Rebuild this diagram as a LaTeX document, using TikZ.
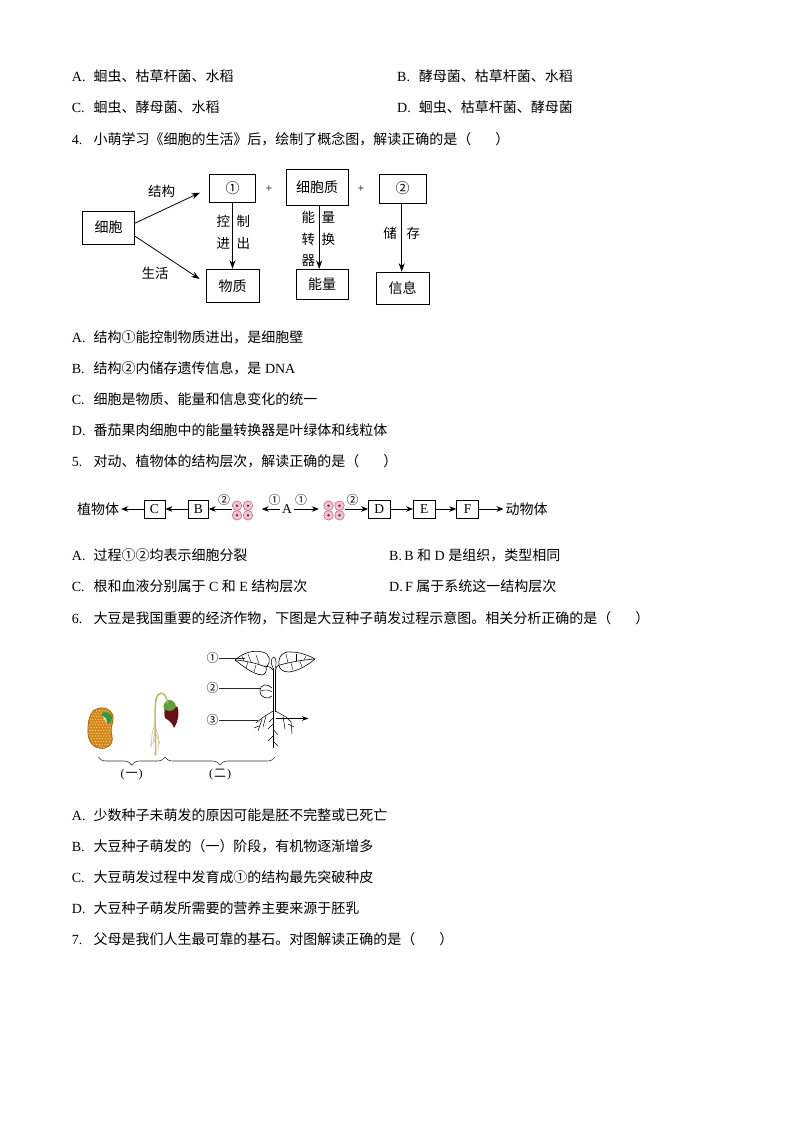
\documentclass[tikz,border=0pt]{standalone}
\usepackage{fontspec}
\setmainfont{Liberation Serif}
\newfontfamily\cjk{Noto Sans CJK SC}
\usetikzlibrary{arrows.meta,decorations.pathreplacing}
\newcommand{\optlab}[1]{\makebox[21.6pt][l]{#1}}
\definecolor{cellpink}{HTML}{F2C4CF}
\definecolor{celledge}{HTML}{B86A86}
\definecolor{celldot}{HTML}{8E1E3C}
\definecolor{seedfill}{HTML}{D4861C}
\definecolor{seededge}{HTML}{A35E0E}
\definecolor{seeddot}{HTML}{F3CB6A}
\definecolor{sprout}{HTML}{2E9A3E}
\definecolor{stemcol}{HTML}{B9BE6E}
\definecolor{rootcol}{HTML}{C9B58A}
\definecolor{headgreen}{HTML}{5FA03C}
\definecolor{coatred}{HTML}{6B0F14}
\tikzset{
  txt/.style={anchor=base west, inner sep=0pt, font=\fontsize{14}{16}\selectfont},
  bx/.style={draw, line width=0.75pt, inner sep=0pt, font=\cjk\fontsize{14}{16}\selectfont},
  lbl/.style={inner sep=0pt, font=\cjk\fontsize{13.5}{15}\selectfont},
  arr/.style={-{Stealth[length=8.5pt,width=6pt]}, line width=0.8pt},
  sarr/.style={-{Stealth[length=7pt,width=5.5pt]}, line width=0.8pt},
  sbx/.style={draw, line width=0.7pt, inner sep=0pt, minimum width=21pt, minimum height=18pt, font=\fontsize{13.5}{15}\selectfont},
  circnum/.style={inner sep=0pt, font=\cjk\fontsize{12}{13}\selectfont},
  plantline/.style={line width=0.6pt, black},
  bracestyle/.style={decorate, decoration={brace, mirror, amplitude=8pt}, line width=0.6pt, black!80},
}
\begin{document}
\begin{tikzpicture}[x=1pt,y=-1pt]
\useasboundingbox (0,0) rectangle (793,1122);
\fill[white] (0,0) rectangle (793,1122);

% ---------- top options ----------
\node[txt] (o1a) at (71.7,81) {\optlab{A.}{\cjk 蛔虫、枯草杆菌、水稻}};
\node[txt] (o1b) at (397,81) {\optlab{B.}{\cjk 酵母菌、枯草杆菌、水稻}};
\node[txt] (o1c) at (71.7,112) {\optlab{C.}{\cjk 蛔虫、酵母菌、水稻}};
\node[txt] (o1d) at (397,112) {\optlab{D.}{\cjk 蛔虫、枯草杆菌、酵母菌}};
\node[txt] (q4) at (71.7,144) {\optlab{4.}{\cjk 小萌学习《细胞的生活》后，绘制了概念图，解读正确的是（\hspace{1.7em}）}};

% ---------- diagram 4 ----------
\node[bx, minimum width=51.6pt, minimum height=33pt] (cell) at (108.5,227.5) {细胞};
\node[bx, minimum width=46.4pt, minimum height=28.7pt] (n1) at (232.5,188.3) {①};
\node[bx, minimum width=62.3pt, minimum height=36pt] (cyz) at (317.2,187.3) {细胞质};
\node[bx, minimum width=46.7pt, minimum height=29pt] (n2) at (402.7,188.5) {②};
\node[bx, minimum width=53.3pt, minimum height=33.7pt] (wz) at (232.7,286) {物质};
\node[bx, minimum width=52.3pt, minimum height=30pt] (nl) at (322.2,284.3) {能量};
\node[bx, minimum width=53.3pt, minimum height=32.3pt] (xx) at (402.7,288.2) {信息};
\node[lbl, font=\fontsize{12}{14}\selectfont] (p1) at (269,189) {+};
\node[lbl, font=\fontsize{12}{14}\selectfont] (p2) at (361,189) {+};

\draw[arr] ([yshift=4.2pt]cell.east) -- ([xshift=-9pt,yshift=-4.4pt]n1.west);
\draw[arr] ([yshift=-8.5pt]cell.east) -- ([xshift=-6pt,yshift=7pt]wz.west);
\draw[arr] (n1.south) -- (n1.south |- wz.north);
\draw[arr] ([xshift=2pt]cyz.south) -- ([xshift=2pt]cyz.south |- nl.north);
\draw[arr] ([xshift=-1pt]n2.south) -- ([xshift=-1pt]n2.south |- xx.north);

\node[lbl] (jg) at (161.7,191.7) {结构};
\node[lbl] (sh) at (155,273.3) {生活};
\node[lbl] (k1) at (223.3,221.7) {控};
\node[lbl] (k2) at (243.3,221.7) {制};
\node[lbl] (k3) at (223.3,243.3) {进};
\node[lbl] (k4) at (243.3,243.3) {出};
\node[lbl] (e1) at (308.3,217.3) {能};
\node[lbl] (e2) at (328.3,217.3) {量};
\node[lbl] (e3) at (308.3,239.5) {转};
\node[lbl] (e4) at (328.3,239.5) {换};
\node[lbl] (e5) at (308.3,260.5) {器};
\node[lbl] (s1) at (390,233.3) {储};
\node[lbl] (s2) at (413.3,233.3) {存};

% ---------- q4 options ----------
\node[txt] (o4a) at (71.7,342) {\optlab{A.}{\cjk 结构①能控制物质进出，是细胞壁}};
\node[txt] (o4b) at (71.7,373) {\optlab{B.}{\cjk 结构②内储存遗传信息，是}\ DNA};
\node[txt] (o4c) at (71.7,404) {\optlab{C.}{\cjk 细胞是物质、能量和信息变化的统一}};
\node[txt] (o4d) at (71.7,435) {\optlab{D.}{\cjk 番茄果肉细胞中的能量转换器是叶绿体和线粒体}};
\node[txt] (q5) at (71.7,466) {\optlab{5.}{\cjk 对动、植物体的结构层次，解读正确的是（\hspace{1.7em}）}};

% ---------- diagram 5 ----------
\node[lbl, font=\cjk\fontsize{14}{15}\selectfont, inner sep=2pt] (zw) at (98,509) {植物体};
\node[sbx] (C) at (154.5,509) {C};
\node[sbx, minimum width=20pt] (B) at (198.3,509) {B};
\node[inner sep=0pt, minimum size=22pt] (cl1) at (242.5,510.5) {};
\node[inner sep=1.5pt, font=\fontsize{13.5}{15}\selectfont] (A) at (287,509) {A};
\node[inner sep=0pt, minimum size=22pt] (cl2) at (334,510.5) {};
\node[sbx, minimum width=21.7pt] (D) at (379.2,509) {D};
\node[sbx, minimum width=21.7pt] (E) at (424.2,509) {E};
\node[sbx, minimum width=21.7pt] (F) at (467.5,509) {F};
\node[lbl, font=\cjk\fontsize{14}{15}\selectfont, inner sep=2pt] (dw) at (526.7,509) {动物体};

\foreach \cl in {cl1,cl2}{
  \foreach \dx in {-5.5,5.5}{
    \foreach \dy in {-4.8,4.8}{
      \filldraw[fill=cellpink, draw=celledge, line width=0.55pt] ([shift={(\dx,\dy)}]\cl.center) circle[radius=4.8];
      \fill[celldot] ([shift={(\dx,\dy)}]\cl.center) circle[radius=1.4];
    }
  }
}

\draw[sarr] (C.west) -- (zw.east);
\draw[sarr] (B.west) -- (C.east);
\draw[sarr] ([xshift=1pt]cl1.west |- B.east) -- (B.east);
\draw[sarr, shorten >=8pt] (A.west) -- (cl1.east |- A.west);
\draw[sarr, shorten >=4pt] (A.east) -- (cl2.west |- A.east);
\draw[sarr] (cl2.east |- D.west) -- (D.west);
\draw[sarr] (D.east) -- (E.west);
\draw[sarr] (E.east) -- (F.west);
\draw[sarr] (F.east) -- (dw.west);
\node[circnum] (c2a) at (224,500) {②};
\node[circnum] (c1a) at (274.5,500) {①};
\node[circnum] (c1b) at (301,500) {①};
\node[circnum] (c2b) at (352.7,500) {②};

% ---------- q5 options ----------
\node[txt] (o5a) at (71.7,560) {\optlab{A.}{\cjk 过程①②均表示细胞分裂}};
\node[txt] (o5b) at (389,560) {B.\,B\ {\cjk 和}\ D\ {\cjk 是组织，类型相同}};
\node[txt] (o5c) at (71.7,591.5) {\optlab{C.}{\cjk 根和血液分别属于}\ C\ {\cjk 和}\ E\ {\cjk 结构层次}};
\node[txt] (o5d) at (389,591.5) {D.\,F\ {\cjk 属于系统这一结构层次}};
\node[txt] (q6) at (71.7,623) {\optlab{6.}{\cjk 大豆是我国重要的经济作物，下图是大豆种子萌发过程示意图。相关分析正确的是（\hspace{1.7em}）}};

% ---------- diagram 6 ----------
% seed
\begin{scope}
  \path[clip] (100,708) .. controls (108,707) and (114,712) .. (113,720)
     .. controls (112,726) and (110,730) .. (112,736)
     .. controls (114,745) and (106,750) .. (99,748)
     .. controls (91,747) and (87,738) .. (88,728)
     .. controls (88,716) and (93,708) .. (100,708) -- cycle;
  \fill[seedfill] (85,705) rectangle (116,752);
  \foreach \i in {0,...,10}{
    \foreach \j in {0,...,15}{
      \fill[seeddot] ({87+\i*2.8+1.4*mod(\j,2)},{708+\j*2.8}) circle[radius=0.75];
    }
  }
  \fill[sprout] (102,713) .. controls (106,711) and (111,713) .. (112,717)
     .. controls (112,721) and (110,724) .. (108,724)
     .. controls (107,720) and (105,717) .. (102,716) -- cycle;
  \fill[white, opacity=0.8] (103,716) .. controls (106,717) and (107,720) .. (107,723)
     .. controls (105,721) and (104,719) .. (103,716) -- cycle;
\end{scope}
\draw[seededge, line width=0.7pt] (100,708) .. controls (108,707) and (114,712) .. (113,720)
     .. controls (112,726) and (110,730) .. (112,736)
     .. controls (114,745) and (106,750) .. (99,748)
     .. controls (91,747) and (87,738) .. (88,728)
     .. controls (88,716) and (93,708) .. (100,708) -- cycle;

% seedling
\draw[rootcol, line width=0.5pt] (155,722) -- (152,735) -- (151,748);
\draw[rootcol, line width=0.5pt] (155,726) -- (159,738) -- (158,750);
\draw[rootcol, line width=0.5pt] (155,730) -- (153,742);
\draw[rootcol, line width=0.5pt] (156,734) -- (160,744);
\draw[rootcol, line width=0.4pt] (155,740) -- (150,746);
\draw[stemcol, line width=1.6pt, line cap=round] (155.5,755) .. controls (156,735) and (154,712) .. (156,700)
   .. controls (157,692) and (164,690) .. (167,700);
\fill[headgreen] (168,700) .. controls (173,699) and (177,704) .. (176,710)
   .. controls (175,714) and (170,715) .. (166,713)
   .. controls (162,710) and (163,701) .. (168,700) -- cycle;
\fill[coatred] (165,710) .. controls (170,712) and (174,711) .. (177,706)
   .. controls (180,712) and (178,722) .. (174,728)
   .. controls (172,722) and (168,720) .. (165,718)
   .. controls (164,715) and (164,712) .. (165,710) -- cycle;
\fill[headgreen!70!white] (167,702) circle[radius=1.5];

% plant
\draw[plantline] (273,668) -- (273,748);
\draw[plantline] (275.5,670) -- (275.5,712);
% petioles
\draw[plantline] (273,670) .. controls (271,667) and (268,666) .. (265,666);
\draw[plantline] (275.5,670) .. controls (276,667) and (277,666) .. (279,665);
% left leaf
\draw[plantline] (266,667) .. controls (272,662) and (270,653) .. (262,652)
   .. controls (254,650) and (244,652) .. (235,660)
   .. controls (243,666) and (252,674) .. (262,675)
   .. controls (266,674) and (267,670) .. (266,667);
\draw[plantline] (266,667) .. controls (256,663) and (246,661) .. (236,660);
\draw[plantline, line width=0.4pt] (259,664) -- (256,655);
\draw[plantline, line width=0.4pt] (251,662) -- (248,654);
\draw[plantline, line width=0.4pt] (244,661) -- (242,656);
\draw[plantline, line width=0.4pt] (256,665) -- (254,672);
\draw[plantline, line width=0.4pt] (248,662) -- (246,668);
% right leaf
\draw[plantline] (279,665) .. controls (278,656) and (283,651) .. (291,652)
   .. controls (299,652) and (308,655) .. (315,659)
   .. controls (308,665) and (298,671) .. (289,672)
   .. controls (283,672) and (279,669) .. (279,665);
\draw[plantline] (280,665) .. controls (290,662) and (303,660) .. (314,659);
\draw[plantline, line width=0.4pt] (288,663) -- (286,654);
\draw[plantline, line width=0.4pt] (296,661) -- (296,654);
\draw[plantline, line width=0.4pt] (304,660) -- (306,656);
\draw[plantline, line width=0.4pt] (291,663) -- (293,670);
\draw[plantline, line width=0.4pt] (300,661) -- (302,667);
% bud
\draw[plantline, line width=0.5pt] (273,668) .. controls (270,662) and (271,658) .. (274,657)
   .. controls (277,660) and (276,664) .. (275.5,668);
% cotyledon
\draw[plantline] (272,688) .. controls (268,683) and (260,684) .. (260,691)
   .. controls (260,698) and (268,700) .. (272,696);
\draw[plantline, line width=0.45pt] (261,691) .. controls (265,689) and (269,690) .. (272,692);
% roots
\draw[plantline, line width=0.5pt] (273,711) -- (262,718) -- (256,723);
\draw[plantline, line width=0.5pt] (266,716) -- (263,727);
\draw[plantline, line width=0.5pt] (262,719) -- (258,731);
\draw[plantline, line width=0.5pt] (259,726) -- (254,728);
\draw[plantline, line width=0.5pt] (275.5,711) -- (286,717) -- (291,722) -- (292,734);
\draw[plantline, line width=0.5pt] (283,716) -- (285,729);
\draw[plantline, line width=0.5pt] (288,724) -- (294,727);
\draw[plantline, line width=0.4pt] (273,724) -- (268,729);
\draw[plantline, line width=0.4pt] (273,729) -- (278,735);
\draw[plantline, line width=0.4pt] (273,736) -- (268,741);
\draw[plantline, line width=0.4pt] (273,741) -- (278,746);
\draw[plantline, line width=0.4pt] (273,718) -- (269,722);

% labels and lines
\node[circnum] (f1) at (212.7,658.3) {①};
\node[circnum] (f2) at (212.7,688.3) {②};
\node[circnum] (f3) at (212.7,720) {③};
\coordinate (t1) at (245,658.3);
\coordinate (t2) at (261,688.3);
\coordinate (t3) at (258,720);
\coordinate (ar0) at (275.5,718.5);
\coordinate (ar1) at (308.5,718.5);
\draw[line width=0.6pt, black!85] (f1.east) -- (t1);
\draw[line width=0.6pt, black!85] (f2.east) -- (t2);
\draw[line width=0.6pt, black!85] (f3.east) -- (t3);
\draw[-{Stealth[length=6.5pt,width=4.5pt]}, line width=0.6pt] (ar0) -- (ar1);

% braces
\coordinate (b0) at (98.3,757);
\coordinate (b1) at (165,757);
\coordinate (b2) at (275,757);
\draw[bracestyle] (b0) -- (b1);
\draw[bracestyle] (b1) -- (b2);
\node[inner sep=0pt, font=\fontsize{12}{13}\selectfont] (g1) at (131.7,775) {(\hspace{1pt}{\cjk 一}\hspace{1pt})};
\node[inner sep=0pt, font=\fontsize{12}{13}\selectfont] (g2) at (220,775) {(\hspace{1pt}{\cjk 二}\hspace{1pt})};

% ---------- q6 options ----------
\node[txt] (o6a) at (71.7,820) {\optlab{A.}{\cjk 少数种子未萌发的原因可能是胚不完整或已死亡}};
\node[txt] (o6b) at (71.7,851.5) {\optlab{B.}{\cjk 大豆种子萌发的（一）阶段，有机物逐渐增多}};
\node[txt] (o6c) at (71.7,882.5) {\optlab{C.}{\cjk 大豆萌发过程中发育成①的结构最先突破种皮}};
\node[txt] (o6d) at (71.7,913.5) {\optlab{D.}{\cjk 大豆种子萌发所需要的营养主要来源于胚乳}};
\node[txt] (q7) at (71.7,944) {\optlab{7.}{\cjk 父母是我们人生最可靠的基石。对图解读正确的是（\hspace{1.7em}）}};
\end{tikzpicture}
\end{document}
